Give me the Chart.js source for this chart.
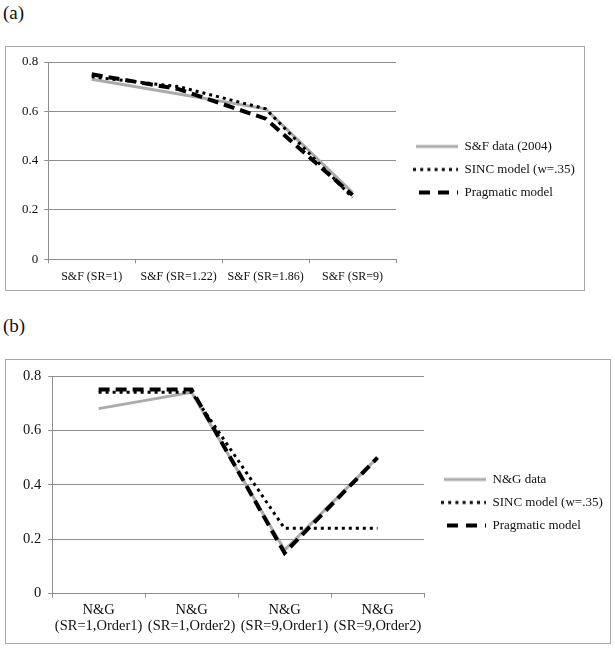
<!DOCTYPE html>
<html>
<head>
<meta charset="utf-8">
<script src="https://cdn.jsdelivr.net/npm/chart.js@4"></script>
<style>
  html, body { margin: 0; padding: 0; background: #fff; }
  body { width: 615px; height: 649px; position: relative; overflow: hidden; font-family: "Liberation Serif", serif; }
  .lbl { position: absolute; left: 3px; font-size: 19px; color: #111; line-height: 1; }
  .box { position: absolute; border: 1px solid #a8a8a8; background: #fff; }
  canvas { display: block; }
</style>
</head>
<body>
<div class="lbl" style="top:3px;">(a)</div>
<div class="box" style="left:5px; top:46px; width:578px; height:243px;"><canvas id="chartA" width="578" height="243"></canvas></div>
<div class="lbl" style="top:316px;">(b)</div>
<div class="box" style="left:5px; top:359px; width:604px; height:283px;"><canvas id="chartB" width="604" height="283"></canvas></div>
<script>
// ---- data ----
const categoriesA = ['S&F (SR=1)', 'S&F (SR=1.22)', 'S&F (SR=1.86)', 'S&F (SR=9)'];
const sfData2004 = [0.73, 0.67, 0.61, 0.27];
const sincModelA = [0.74, 0.70, 0.61, 0.25];
const pragmaticA = [0.75, 0.69, 0.57, 0.26];
const seriesNamesA = ['S&F data (2004)', 'SINC model (w=.35)', 'Pragmatic model'];

const categoriesB = [['N&G', '(SR=1,Order1)'], ['N&G', '(SR=1,Order2)'], ['N&G', '(SR=9,Order1)'], ['N&G', '(SR=9,Order2)']];
const ngData = [0.68, 0.74, 0.16, 0.50];
const sincModelB = [0.74, 0.74, 0.24, 0.24];
const pragmaticB = [0.75, 0.75, 0.15, 0.50];
const seriesNamesB = ['N&G data', 'SINC model (w=.35)', 'Pragmatic model'];

const yTickLabels = ['0', '0.2', '0.4', '0.6', '0.8'];
const yMin = 0, yMax = 0.8, yStep = 0.2;

// ---- styles ----
const GRID = '#8e8e8e';
const styles = [
  { color: '#ababab', width: 3, dash: [], order: 2 },
  { color: '#000000', width: 3, dash: [3, 4], order: 1 },
  { color: '#000000', width: 4, dash: [11, 6], order: 0 }
];

function makeSample(i) {
  const c = document.createElement('canvas');
  c.width = 52; c.height = 10;
  const g = c.getContext('2d');
  const s = styles[i];
  g.strokeStyle = s.color;
  g.lineWidth = s.width;
  if (i === 0) { g.setLineDash([]); g.beginPath(); g.moveTo(10, 5); g.lineTo(52, 5); g.stroke(); }
  if (i === 1) { g.setLineDash([3, 4.2]); g.beginPath(); g.moveTo(7, 5); g.lineTo(52, 5); g.stroke(); }
  if (i === 2) { g.setLineDash([11, 8]); g.beginPath(); g.moveTo(13, 5); g.lineTo(52, 5); g.stroke(); }
  return c;
}
const samples = [makeSample(0), makeSample(1), makeSample(2)];

Chart.defaults.font.family = '"Liberation Serif", serif';
Chart.defaults.color = '#111';

// nudges the legend block vertically after layout
const legendNudge = {
  id: 'legendNudge',
  afterLayout(chart, args, opts) {
    if (chart.legend && opts && opts.dy) {
      chart.legend.top += opts.dy;
      chart.legend.bottom += opts.dy;
    }
  }
};

function buildChart(id, cats, seriesList, names, opt) {
  const datasets = seriesList.map((vals, i) => ({
    label: names[i],
    data: vals,
    borderColor: styles[i].color,
    backgroundColor: styles[i].color,
    borderWidth: styles[i].width,
    borderDash: styles[i].dash,
    borderCapStyle: 'butt',
    borderJoinStyle: 'miter',
    pointRadius: 0,
    pointHoverRadius: 0,
    tension: 0,
    fill: false,
    order: styles[i].order
  }));
  return new Chart(document.getElementById(id), {
    type: 'line',
    data: { labels: cats, datasets },
    plugins: [legendNudge],
    options: {
      responsive: false,
      animation: false,
      devicePixelRatio: 1,
      layout: { padding: opt.padding },
      plugins: {
        tooltip: { enabled: false },
        legendNudge: { dy: opt.legendDy },
        legend: {
          position: 'right',
          align: 'center',
          maxWidth: opt.legendWidth,
          labels: {
            usePointStyle: true,
            pointStyleWidth: 52,
            padding: 10,
            color: '#111',
            font: { size: 13 },
            generateLabels: (chart) => chart.data.datasets.map((ds, i) => ({
              text: ds.label,
              pointStyle: samples[i],
              fillStyle: 'transparent',
              strokeStyle: 'transparent',
              lineWidth: 0,
              hidden: false,
              datasetIndex: i,
              fontColor: '#111'
            }))
          }
        }
      },
      scales: {
        x: {
          type: 'category',
          offset: true,
          grid: { offset: true, drawOnChartArea: false, drawTicks: true, tickLength: 4, color: GRID },
          border: { display: true, color: GRID, width: 1 },
          ticks: { font: { size: opt.xFont, lineHeight: 1.15 }, color: '#111', padding: opt.xPad, maxRotation: 0, autoSkip: false }
        },
        y: {
          min: yMin, max: yMax,
          grid: { color: GRID, tickLength: 4, drawTicks: true },
          border: { display: true, color: GRID, width: 1 },
          ticks: {
            stepSize: yStep,
            font: { size: opt.yFont },
            color: '#111',
            padding: opt.yPad,
            callback: (v, idx) => yTickLabels[idx]
          }
        }
      }
    }
  });
}

buildChart('chartA', categoriesA, [sfData2004, sincModelA, pragmaticA], seriesNamesA,
  { padding: { left: 10, right: 0, top: 15, bottom: 0 }, legendWidth: 188, legendDy: -6.5, xPad: 6.5, xFont: 12, yFont: 13, yPad: 6 });
buildChart('chartB', categoriesB, [ngData, sincModelB, pragmaticB], seriesNamesB,
  { padding: { left: 10, right: 0, top: 16, bottom: 4 }, legendWidth: 186, legendDy: -5, xPad: 4, xFont: 14.5, yFont: 14.5, yPad: 7 });
</script>
</body>
</html>
